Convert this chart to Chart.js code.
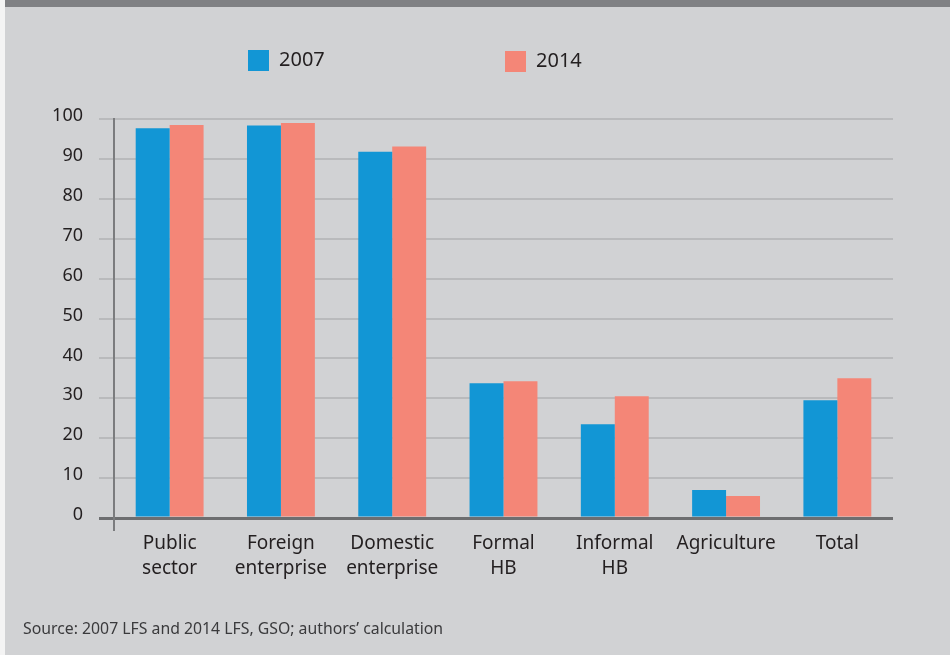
<!DOCTYPE html>
<html>
<head>
<meta charset="utf-8">
<script src="https://cdn.jsdelivr.net/npm/chart.js@4.4.1/dist/chart.umd.min.js"></script>
<style>
  html, body { margin: 0; padding: 0; background: #ffffff; }
  #wrap { position: absolute; left: 0; top: 0; width: 950px; height: 655px; background: #d1d2d4; }
  #leftstrip { position: absolute; left: 0; top: 0; width: 5px; height: 655px; background: #f4f4f4; }
  #topbar { position: absolute; left: 5px; top: 0; width: 945px; height: 7px; background: #808184; }
  #source { position: absolute; left: 23px; top: 617px; font-family: "Noto Sans", sans-serif; font-size: 15.8px; color: #3a3a3c; white-space: nowrap; }
  canvas { position: absolute; left: 0; top: 0; }
</style>
</head>
<body>
<div id="wrap">
  <canvas id="c" width="950" height="655"></canvas>
  <div id="leftstrip"></div>
  <div id="topbar"></div>
  <div id="source">Source: 2007 LFS and 2014 LFS, GSO; authors’ calculation</div>
</div>
<script>
const categories = [["Public", "sector"], ["Foreign", "enterprise"], ["Domestic", "enterprise"], ["Formal", "HB"], ["Informal", "HB"], ["Agriculture"], ["Total"]];
const seriesNames = ["2007", "2014"];
const values2007 = [97.7, 98.4, 91.8, 33.8, 23.5, 7.0, 29.5];
const values2014 = [98.5, 99.0, 93.1, 34.3, 30.5, 5.5, 35.0];
const yTicks = [0, 10, 20, 30, 40, 50, 60, 70, 80, 90, 100];

const colors = ["#1296d5", "#f48677"];
const textColor = "#231f20";

const legendPlugin = {
  id: 'customLegend',
  afterDraw(chart) {
    const ctx = chart.ctx;
    const pos = [{ bx: 248, by: 50, tx: 279 }, { bx: 505, by: 51, tx: 536 }];
    ctx.save();
    chart.data.datasets.forEach((ds, i) => {
      const p = pos[i];
      ctx.fillStyle = ds.backgroundColor;
      ctx.fillRect(p.bx, p.by, 21, 21);
      ctx.fillStyle = textColor;
      ctx.font = '20px "Noto Sans"';
      ctx.textBaseline = 'middle';
      ctx.textAlign = 'left';
      ctx.fillText(ds.label, p.tx, p.by + 10);
    });
    ctx.restore();
  }
};

new Chart(document.getElementById('c'), {
  type: 'bar',
  data: {
    labels: categories,
    datasets: [
      { label: seriesNames[0], data: values2007, backgroundColor: colors[0], borderWidth: 0 },
      { label: seriesNames[1], data: values2014, backgroundColor: colors[1], borderWidth: 0 }
    ]
  },
  options: {
    responsive: false,
    animation: false,
    devicePixelRatio: 1,
    layout: { padding: { left: 0, right: 57, top: 119, bottom: 0 } },
    datasets: { bar: { categoryPercentage: 0.61, barPercentage: 1.0 } },
    plugins: { legend: { display: false }, tooltip: { enabled: false } },
    scales: {
      x: {
        grid: {
          offset: true,
          drawOnChartArea: false,
          drawTicks: true,
          tickLength: 13,
          lineWidth: 2,
          color: (c) => c.index === 0 ? '#7b7c7e' : 'rgba(0,0,0,0)'
        },
        border: { display: false },
        ticks: {
          color: textColor,
          font: { family: 'Noto Sans', size: 19, lineHeight: 1.33 },
          padding: 0,
          maxRotation: 0,
          autoSkip: false
        },
        afterFit(scale) { scale.height = 655 - 518; }
      },
      y: {
        min: 0,
        max: 100,
        afterBuildTicks(scale) { scale.ticks = yTicks.map(v => ({ value: v })); },
        grid: {
          drawTicks: true,
          tickLength: 15,
          color: (c) => c.tick && c.tick.value === 0 ? '#6d6e70' : '#b9babc',
          lineWidth: (c) => c.tick && c.tick.value === 0 ? 3 : 2
        },
        border: { display: true, color: '#7b7c7e', width: 2 },
        ticks: {
          color: textColor,
          font: { family: 'Noto Sans', size: 18 },
          padding: 16,
          labelOffset: -3
        },
        afterFit(scale) { scale.width = 114; }
      }
    }
  },
  plugins: [legendPlugin]
});
</script>
</body>
</html>
